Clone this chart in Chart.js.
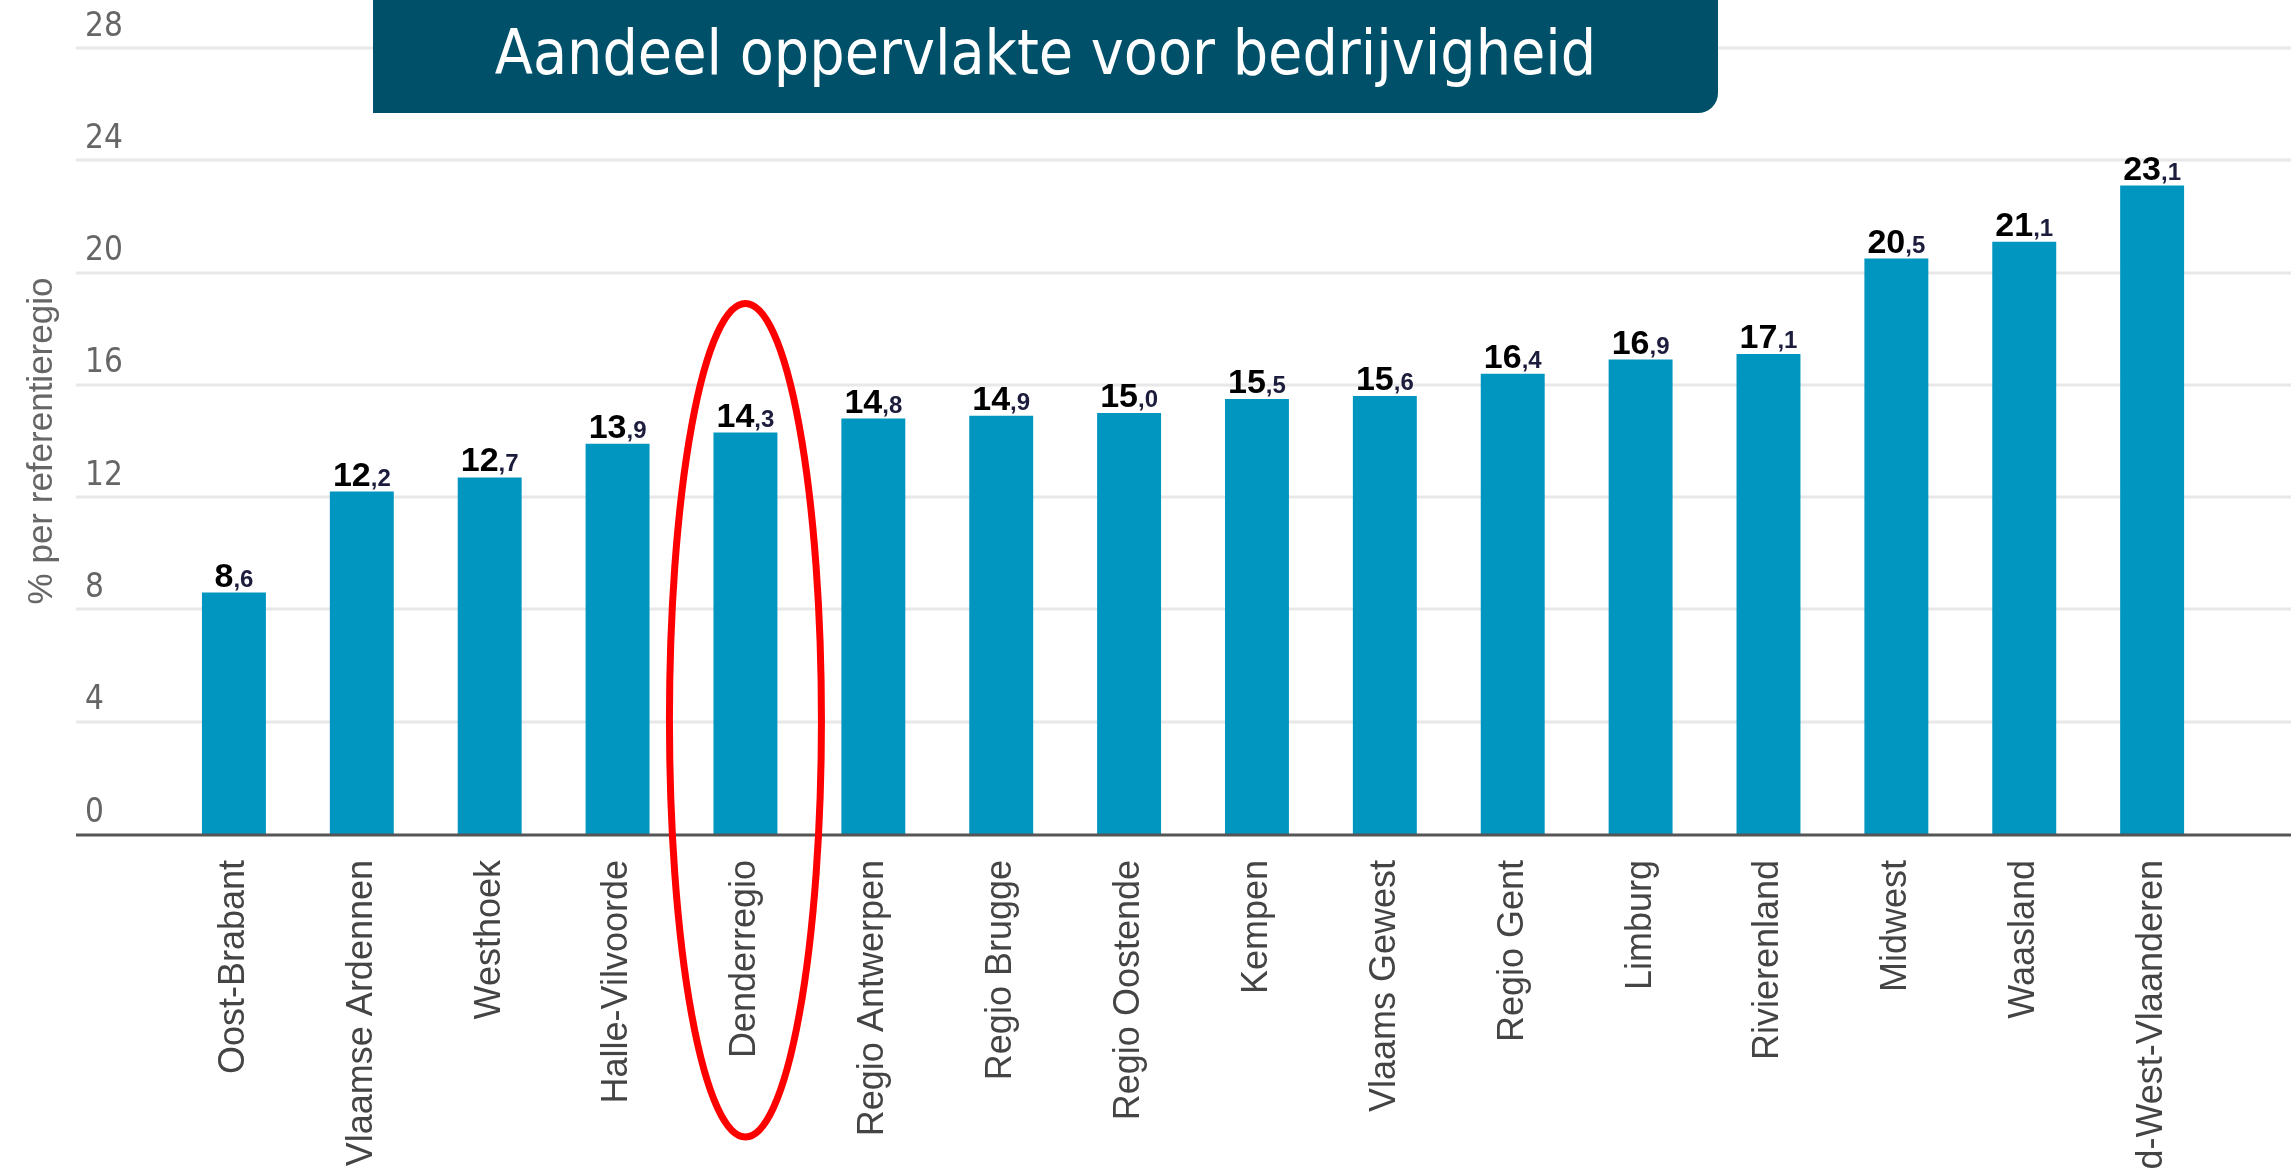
<!DOCTYPE html>
<html>
<head>
<meta charset="utf-8">
<script src="https://cdn.jsdelivr.net/npm/chart.js@4/dist/chart.umd.min.js"></script>
<style>
  html, body { margin: 0; padding: 0; background: #fff; }
  #wrap { position: relative; width: 2291px; height: 1169px; overflow: hidden; }
  #title {
    position: absolute; left: 373px; top: 0; width: 1345px; height: 113px;
    background: #00506a; border-bottom-right-radius: 20px;
    color: #fff; font-family: 'DejaVu Sans Condensed', 'DejaVu Sans', sans-serif;
    font-size: 62px; display: flex; align-items: center; justify-content: center;
    padding-bottom: 8px; box-sizing: border-box;
  }
</style>
</head>
<body>
<div id="wrap">
  <canvas id="chart" width="2291" height="1169"></canvas>
  <div id="title">Aandeel oppervlakte voor bedrijvigheid</div>
</div>
<script>
const categories = ['Oost-Brabant', 'Vlaamse Ardennen', 'Westhoek', 'Halle-Vilvoorde', 'Denderregio',
  'Regio Antwerpen', 'Regio Brugge', 'Regio Oostende', 'Kempen', 'Vlaams Gewest', 'Regio Gent',
  'Limburg', 'Rivierenland', 'Midwest', 'Waasland', 'Zuid-West-Vlaanderen'];
const values = [8.6, 12.2, 12.7, 13.9, 14.3, 14.8, 14.9, 15.0, 15.5, 15.6, 16.4, 16.9, 17.1, 20.5, 21.1, 23.1];
const yTicks = [0, 4, 8, 12, 16, 20, 24, 28];
const highlighted = 'Denderregio';

// horizontal grid + base line, spanning the x scale
const gridLines = {
  id: 'gridLines',
  beforeDatasetsDraw(chart) {
    const { ctx, scales: { x, y } } = chart;
    ctx.save();
    ctx.strokeStyle = '#e8e8e8';
    ctx.lineWidth = 3;
    yTicks.forEach((v) => {
      if (v === 0) return;
      const py = Math.round(y.getPixelForValue(v));
      ctx.beginPath();
      ctx.moveTo(x.left, py);
      ctx.lineTo(x.right, py);
      ctx.stroke();
    });
    ctx.restore();
  },
  afterDatasetsDraw(chart) {
    const { ctx, scales: { x, y } } = chart;
    const py = Math.round(y.getPixelForValue(0)) + 1;
    ctx.save();
    ctx.strokeStyle = '#555';
    ctx.lineWidth = 3;
    ctx.beginPath();
    ctx.moveTo(x.left, py);
    ctx.lineTo(x.right, py);
    ctx.stroke();
    ctx.restore();
  }
};

// labels: big integer part, small decimal part
const valueLabels = {
  id: 'valueLabels',
  afterDatasetsDraw(chart) {
    const ctx = chart.ctx;
    const meta = chart.getDatasetMeta(0);
    const bigFont = 'bold 34px "Liberation Sans", Arial, sans-serif';
    const smallFont = 'bold 24px "Liberation Sans", Arial, sans-serif';
    ctx.save();
    ctx.textBaseline = 'alphabetic';
    ctx.textAlign = 'left';
    meta.data.forEach((bar, i) => {
      const parts = values[i].toFixed(1).split('.');
      const big = parts[0];
      const small = ',' + parts[1];
      ctx.font = bigFont;
      const wBig = ctx.measureText(big).width;
      ctx.font = smallFont;
      const wSmall = ctx.measureText(small).width;
      const x0 = bar.x - (wBig + wSmall) / 2;
      const y = bar.y - 6;
      ctx.font = bigFont;
      ctx.fillStyle = '#000';
      ctx.fillText(big, x0, y);
      ctx.font = smallFont;
      ctx.fillStyle = '#1c1c3c';
      ctx.fillText(small, x0 + wBig, y);
    });
    ctx.restore();
  }
};

// red ring round the highlighted region
const ring = {
  id: 'ring',
  afterDraw(chart) {
    const i = categories.indexOf(highlighted);
    const bar = chart.getDatasetMeta(0).data[i];
    const top = chart.scales.y.getPixelForValue(18.9);
    const bottom = chart.scales.y.getPixelForValue(0) + 303;
    const ctx = chart.ctx;
    ctx.save();
    ctx.strokeStyle = '#ff0000';
    ctx.lineWidth = 7;
    ctx.beginPath();
    ctx.ellipse(bar.x, (top + bottom) / 2, 76, (bottom - top) / 2, 0, 0, Math.PI * 2);
    ctx.stroke();
    ctx.restore();
  }
};

new Chart(document.getElementById('chart'), {
  type: 'bar',
  data: {
    datasets: [{
      data: values.map((v, i) => ({ x: i, y: v })),
      backgroundColor: '#0096c0',
      categoryPercentage: 1,
      barPercentage: 0.5
    }]
  },
  options: {
    responsive: false,
    animation: false,
    devicePixelRatio: 1,
    layout: { padding: { top: 48, left: 0, right: 0, bottom: 0 } },
    plugins: { legend: { display: false }, tooltip: { enabled: false } },
    scales: {
      x: {
        type: 'linear',
        min: -1.235,
        max: 16.086,
        offset: false,
        afterBuildTicks: (s) => { s.ticks = categories.map((c, i) => ({ value: i })); },
        afterFit: (s) => { s.height = 335; },
        grid: { display: false, drawTicks: false },
        border: { display: false },
        ticks: {
          autoSkip: false,
          minRotation: 90,
          maxRotation: 90,
          padding: 26,
          color: '#444',
          font: { family: '"Liberation Sans", Arial, sans-serif', size: 36 },
          callback: (v) => categories[v]
        }
      },
      y: {
        min: 0,
        max: 28,
        afterBuildTicks: (s) => { s.ticks = yTicks.map((v) => ({ value: v })); },
        afterFit: (s) => { s.width = 76; },
        grid: { display: false, drawTicks: false },
        border: { display: false },
        ticks: {
          mirror: true,
          padding: 9,
          labelOffset: -21,
          color: '#666',
          font: { family: '"Liberation Sans Narrow", "DejaVu Sans Condensed", sans-serif', size: 33 }
        },
        title: {
          display: true,
          text: '% per referentieregio',
          color: '#666',
          padding: { top: 21, bottom: 0 },
          font: { family: '"Liberation Sans", Arial, sans-serif', size: 35 }
        }
      }
    }
  },
  plugins: [gridLines, valueLabels, ring]
});
</script>
</body>
</html>
